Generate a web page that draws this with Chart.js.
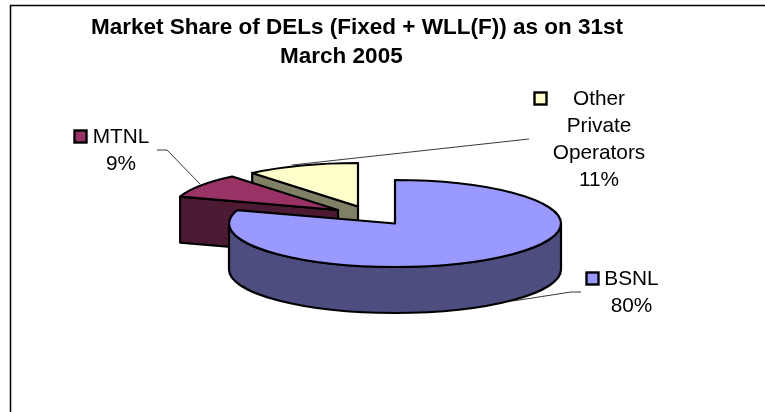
<!DOCTYPE html>
<html>
<head>
<meta charset="utf-8">
<style>html,body{margin:0;padding:0;background:#fff}canvas{display:block}</style>
<script src="https://cdn.jsdelivr.net/npm/chart.js@4"></script>
</head>
<body>
<div style="width:765px;height:412px"><canvas id="c" width="765" height="412"></canvas></div>
<script>
const categories = ['BSNL', 'MTNL', 'Other Private Operators'];
const shareValues = [80, 9, 11];
const titleLines = ['Market Share of DELs (Fixed + WLL(F)) as on 31st', 'March 2005     '];
const labelLines = [['BSNL', '80%'], ['MTNL', '9%'], ['Other', 'Private', 'Operators', '11%']];

const topColors = ['#9999FF', '#993366', '#FFFFCC'];
const sideColors = ['#4D4D80', '#4D1A33', '#808066'];

const FONT = '"Liberation Sans", Arial, sans-serif';
const pieCx = 395, pieCy = 223.5, pieRx = 166, pieRy = 43.5, pieDepth = 46;
const sliceShift = [[0, 0], [-57, -13.5], [-37, -17]];
const drawOrder = [2, 1, 0];
const labelStyle = [
  {cx: 631.5, base: 285, key: [585, 271]},
  {cx: 121, base: 143, key: [73, 129]},
  {cx: 599, base: 105, key: [533, 91]}
];
const leaders = [
  [[581, 292], [571, 292], [513, 301]],
  [[157, 150], [167, 150], [200, 184]],
  [[529, 139], [292, 165]]
];

const pie3d = {
  id: 'pie3d',
  beforeDraw(chart) {
    const c = chart.ctx;
    c.save();
    c.strokeStyle = '#000';
    c.lineWidth = 1.5;
    c.beginPath();
    c.moveTo(10.5, 412); c.lineTo(10.5, 5.5); c.lineTo(765, 5.5);
    c.stroke();
    c.restore();
  },
  beforeDatasetDraw(chart, args) {
    const c = chart.ctx;
    const arcs = args.meta.data;
    drawOrder.forEach(i => {
      const el = arcs[i];
      const p = el.getProps(['x', 'y', 'startAngle', 'endAngle', 'outerRadius'], true);
      const x = pieCx + sliceShift[i][0], y = pieCy + sliceShift[i][1];
      const a0 = p.startAngle, a1 = p.endAngle;
      const px = a => x + pieRx * Math.cos(a), py = a => y + pieRy * Math.sin(a);
      c.save();
      c.lineWidth = 2.2;
      c.lineJoin = 'round';
      c.strokeStyle = '#000';
      c.fillStyle = sideColors[i];
      const face = a => {
        c.beginPath();
        c.moveTo(x, y); c.lineTo(px(a), py(a));
        c.lineTo(px(a), py(a) + pieDepth); c.lineTo(x, y + pieDepth);
        c.closePath(); c.fill(); c.stroke();
      };
      if (Math.cos(a0) < -0.01) face(a0);
      if (Math.cos(a1) > 0.01) face(a1);
      const w0 = Math.max(a0, 0), w1 = Math.min(a1, Math.PI);
      if (w1 > w0) {
        c.beginPath();
        c.ellipse(x, y, pieRx, pieRy, 0, w0, w1);
        c.ellipse(x, y + pieDepth, pieRx, pieRy, 0, w1, w0, true);
        c.closePath(); c.fill(); c.stroke();
      }
      c.save();
      c.translate(x, y);
      c.scale(pieRx / p.outerRadius, pieRy / p.outerRadius);
      c.translate(-p.x, -p.y);
      el.draw(c);
      c.restore();
      c.beginPath();
      c.moveTo(x, y);
      c.ellipse(x, y, pieRx, pieRy, 0, a0, a1);
      c.closePath();
      c.stroke();
      c.restore();
    });
    return false;
  },
  afterDatasetsDraw(chart) {
    const c = chart.ctx;
    c.save();
    c.strokeStyle = '#222';
    c.lineWidth = 0.9;
    leaders.forEach(l => {
      c.beginPath();
      l.forEach((q, k) => k ? c.lineTo(q[0], q[1]) : c.moveTo(q[0], q[1]));
      c.stroke();
    });
    c.fillStyle = '#000';
    c.font = '20.8px ' + FONT;
    c.textAlign = 'center';
    c.textBaseline = 'alphabetic';
    labelLines.forEach((lines, i) => {
      const s = labelStyle[i];
      lines.forEach((t, k) => c.fillText(t, s.cx, s.base + k * 27));
      c.fillStyle = topColors[i];
      c.strokeStyle = '#000';
      c.lineWidth = 2.4;
      c.fillRect(s.key[0] + 1.5, s.key[1] + 1.5, 12, 12);
      c.strokeRect(s.key[0] + 1.5, s.key[1] + 1.5, 12, 12);
      c.fillStyle = '#000';
      c.strokeStyle = '#222';
    });
    c.restore();
  }
};

new Chart(document.getElementById('c'), {
  type: 'pie',
  data: {
    labels: categories,
    datasets: [{data: shareValues, backgroundColor: topColors, borderWidth: 0}]
  },
  plugins: [pie3d],
  options: {
    responsive: false,
    animation: false,
    layout: {padding: {left: 10, right: 61, top: 14, bottom: 0}},
    plugins: {
      legend: {display: false},
      tooltip: {enabled: false},
      title: {
        display: true,
        text: titleLines,
        color: '#000',
        font: {family: FONT, size: 22.5, weight: 'bold', lineHeight: 1.27},
        padding: 0
      }
    }
  }
});
</script>
</body>
</html>
